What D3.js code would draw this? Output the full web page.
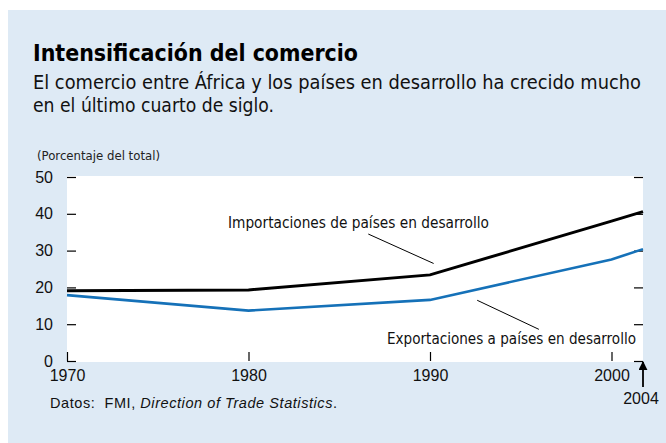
<!DOCTYPE html>
<html>
<head>
<meta charset="utf-8">
<script src="https://cdn.jsdelivr.net/npm/d3@7"></script>
<style>
  body { margin: 0; background: #fff; }
  svg { display: block; }
</style>
</head>
<body>
<div id="chart"></div>
<script>
// data
const years = [1970, 1980, 1990, 2000, 2004];
const imports = [19.1, 19.3, 23.4, 38.0, 40.6];   // Importaciones de países en desarrollo
const exports = [17.9, 13.7, 16.6, 27.6, 30.4];   // Exportaciones a países en desarrollo
const yTicks = [0, 10, 20, 30, 40, 50];
const xTicks = [1970, 1980, 1990, 2000];

const title = 'Intensificación del comercio';
const subtitle = ['El comercio entre África y los países en desarrollo ha crecido mucho',
                  'en el último cuarto de siglo.'];
const unitLabel = '(Porcentaje del total)';
const importsLabel = 'Importaciones de países en desarrollo';
const exportsLabel = 'Exportaciones a países en desarrollo';

const width = 666, height = 443;
const margin = ({top: 177, right: 23, bottom: 82, left: 67});
const narrow = '"Liberation Sans Narrow", "Arial Narrow", "DejaVu Sans Condensed", sans-serif';
const plain = '"Liberation Sans", Arial, sans-serif';

// the last stretch (2000-2004) is squeezed in the original, hence the piecewise domain
const x = d3.scaleLinear()
  .domain([1970, 2000, 2004])
  .range([margin.left, 611.5, width - margin.right]);
const y = d3.scaleLinear()
  .domain([0, 50])
  .range([height - margin.bottom, margin.top]);

const svg = d3.select('#chart').append('svg')
  .attr('width', width)
  .attr('height', height);

// panel
svg.append('rect')
  .attr('x', 8).attr('y', 10)
  .attr('width', width - 8).attr('height', height - 10)
  .attr('fill', '#deeaf5');

// white plot area
svg.append('rect')
  .attr('x', x(1970)).attr('y', y(50) - 1)
  .attr('width', x(2004) - x(1970)).attr('height', y(0) - y(50) + 2)
  .attr('fill', '#fff');

// title + subtitle
svg.append('text')
  .attr('x', 33).attr('y', 60.5)
  .attr('font-family', narrow)
  .attr('font-weight', 'bold')
  .attr('font-size', 23)
  .attr('textLength', 325).attr('lengthAdjust', 'spacingAndGlyphs')
  .attr('fill', '#000')
  .text(title);

svg.append('text')
  .attr('x', 33).attr('y', 88.5)
  .attr('font-family', narrow)
  .attr('font-size', 20)
  .attr('textLength', 608).attr('lengthAdjust', 'spacingAndGlyphs')
  .attr('fill', '#111')
  .text(subtitle[0]);

svg.append('text')
  .attr('x', 33).attr('y', 112)
  .attr('font-family', narrow)
  .attr('font-size', 20)
  .attr('textLength', 241).attr('lengthAdjust', 'spacingAndGlyphs')
  .attr('fill', '#111')
  .text(subtitle[1]);

svg.append('text')
  .attr('x', 37).attr('y', 160)
  .attr('font-family', narrow)
  .attr('font-size', 12.5)
  .attr('textLength', 123).attr('lengthAdjust', 'spacingAndGlyphs')
  .attr('fill', '#222')
  .text(unitLabel);

// Axes
const axisStyle = g => {
  g.select('.domain').remove();
  g.selectAll('line').attr('stroke', '#000').attr('stroke-width', 1.2);
  g.selectAll('text')
    .attr('font-family', plain)
    .attr('font-size', 16)
    .attr('fill', '#111');
};

svg.append('g')
  .attr('transform', `translate(${x(1970)},0)`)
  .call(d3.axisLeft(y).tickValues(yTicks).tickSize(-9).tickPadding(14))
  .call(axisStyle);

svg.append('g')
  .attr('transform', `translate(${x(2004)},0)`)
  .call(d3.axisRight(y).tickValues(yTicks).tickSize(-9).tickFormat(''))
  .call(axisStyle);

svg.append('g')
  .attr('transform', `translate(0,${y(0)})`)
  .call(d3.axisBottom(x).tickValues(xTicks).tickSize(-9).tickPadding(9).tickFormat(d3.format('d')))
  .call(axisStyle);

// 2004 arrow + label
svg.append('defs').append('marker')
  .attr('id', 'head')
  .attr('viewBox', '0 0 10 10')
  .attr('refX', 9).attr('refY', 5)
  .attr('markerWidth', 9).attr('markerHeight', 9)
  .attr('markerUnits', 'userSpaceOnUse')
  .attr('orient', 'auto')
  .append('path')
  .attr('d', 'M0,0L10,5L0,10z')
  .attr('fill', '#000');

svg.append('line')
  .attr('x1', x(2004)).attr('x2', x(2004))
  .attr('y1', y(0) + 26).attr('y2', y(0) + 1)
  .attr('stroke', '#000').attr('stroke-width', 1.8)
  .attr('marker-end', 'url(#head)');

svg.append('text')
  .attr('x', x(2004) - 2).attr('y', y(0) + 43)
  .attr('text-anchor', 'middle')
  .attr('font-family', plain)
  .attr('font-size', 16)
  .attr('fill', '#111')
  .text('2004');

// Lines
const line = d3.line()
  .x(d => x(d[0]))
  .y(d => y(d[1]));

const series = [
  {values: exports, color: '#1571b8', w: 2.6},
  {values: imports, color: '#000', w: 3}
];

svg.append('g')
  .selectAll('path')
  .data(series)
  .join('path')
    .attr('fill', 'none')
    .attr('stroke', d => d.color)
    .attr('stroke-width', d => d.w)
    .attr('stroke-linejoin', 'miter')
    .attr('d', d => line(years.map((yr, i) => [yr, d.values[i]])));

// annotations (leader lines anchored in data units)
const notes = [
  {text: importsLabel, tx: 228, ty: 228, len: 261, from: [1986.6, 34.5], to: [1990.2, 26.5]},
  {text: exportsLabel, tx: 387, ty: 344, len: 249, from: [1992.6, 16.5], to: [1996.0, 8.6]}
];

notes.forEach(n => {
  svg.append('line')
    .attr('x1', x(n.from[0])).attr('y1', y(n.from[1]))
    .attr('x2', x(n.to[0])).attr('y2', y(n.to[1]))
    .attr('stroke', '#000').attr('stroke-width', 1);
  svg.append('text')
    .attr('x', n.tx).attr('y', n.ty)
    .attr('font-family', narrow)
    .attr('font-size', 16.5)
    .attr('textLength', n.len).attr('lengthAdjust', 'spacingAndGlyphs')
    .attr('fill', '#111')
    .text(n.text);
});

// source
const src = svg.append('text')
  .attr('x', 50).attr('y', 407.5)
  .attr('font-family', plain)
  .attr('font-size', 14.5)
  .attr('textLength', 287).attr('lengthAdjust', 'spacing')
  .attr('fill', '#111');
src.append('tspan').attr('xml:space', 'preserve').text('Datos:  FMI, ');
src.append('tspan').attr('font-style', 'italic').text('Direction of Trade Statistics');
src.append('tspan').text('.');
</script>
</body>
</html>
